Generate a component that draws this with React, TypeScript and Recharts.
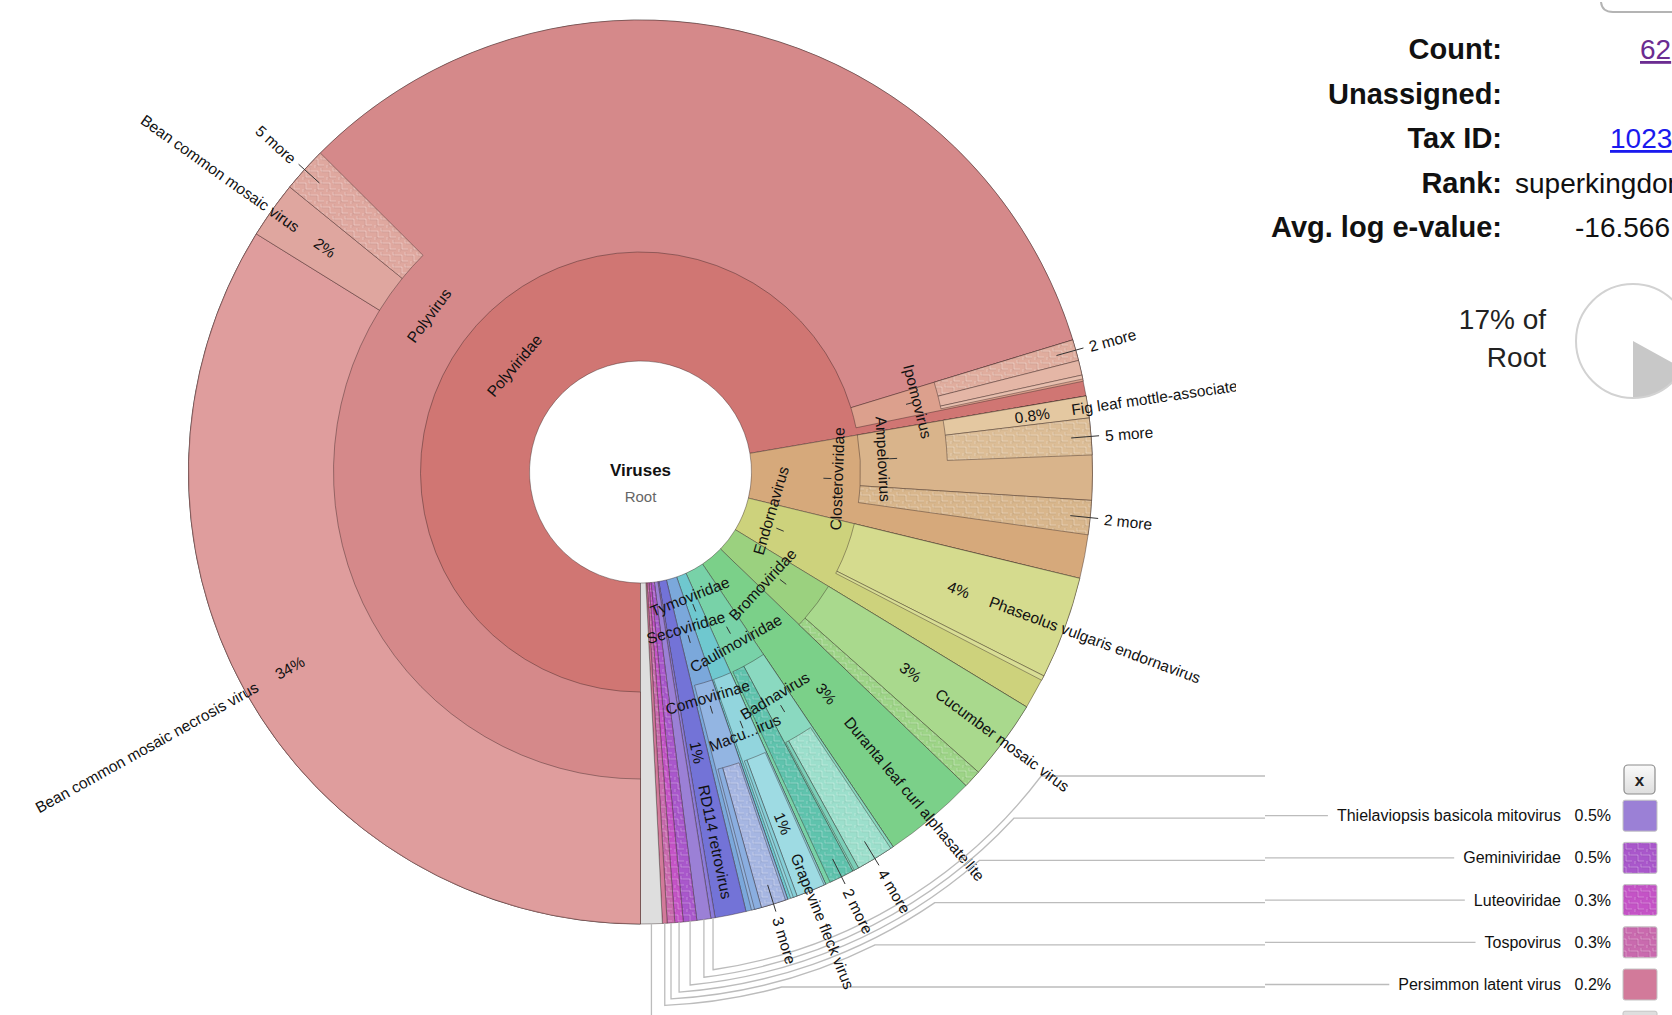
import React from "react";
import { PieChart, Pie, Cell } from "recharts";

const W = 1672;
const H = 1015;
const CX = 640.5;
const CY = 472;
const HOLE = 111;
const RING1 = 220;
const RING2 = 307;
const EDGE = 452;

// share of all reads (%), clockwise from six o'clock; "" = nothing drawn at that depth
const depth1Names = [
  "Polyviridae", "Closteroviridae", "Endornavirus", "Bromoviridae",
  "Duranta leaf curl alphasatellite", "Caulimoviridae", "Tymoviridae", "Secoviridae",
  "RD114 retrovirus", "key-hidden", "Thielaviopsis basicola mitovirus", "Geminiviridae",
  "Luteoviridae", "Tospovirus", "Persimmon latent virus", "key-unseen",
];
const depth1Values = [72.31, 6.47, 4.92, 3.5, 3.36, 2.72, 1.44, 1.53, 1.11, 0.15, 0.5, 0.48, 0.3, 0.27, 0.17, 0.77];

const depth2Names = [
  "Polyvirus", "Ipomovirus", "",
  "Ampelovirus", "2 more (Closteroviridae)", "",
  "Phaseolus vulgaris endornavirus", "other (Endornavirus)", "",
  "Cucumber mosaic virus", "more (Bromoviridae)",
  "",
  "Badnavirus", "2 more (Caulimoviridae)", "",
  "Maculavirus", "",
  "Comovirinae", "",
  "",
];
const depth2Values = [70.28, 1.5, 0.53, 3.69, 1.22, 1.56, 3.67, 0.17, 1.08, 2.86, 0.64, 3.36, 1.66, 0.89, 0.17, 1.33, 0.11, 1.33, 0.2, 3.75];

const depth3Names = [
  "Bean common mosaic necrosis virus", "Bean common mosaic virus", "5 more (Polyvirus)", "",
  "2 more (Ipomovirus)", "other (Ipomovirus a)", "other (Ipomovirus b)", "",
  "",
  "Fig leaf mottle-associated virus", "5 more (Ampelovirus)", "",
  "",
  "", "4 more (Badnavirus)", "other (Badnavirus)", "",
  "",
  "", "Grapevine fleck virus", "other (Maculavirus)", "",
  "",
  "", "3 more (Comovirinae)", "other (Comovirinae)", "",
  "",
];
const depth3Values = [33.83, 2.03, 1.61, 32.81, 0.75, 0.53, 0.14, 0.08, 0.53, 0.78, 1.31, 1.6, 14.56, 0.1, 1.33, 0.17, 0.06, 1.06, 0.06, 1.03, 0.14, 0.1, 0.11, 0.08, 0.89, 0.25, 0.11, 3.95];

// small slices listed in the key at the lower right
const keyNames = ["key-hidden", "Thielaviopsis basicola mitovirus", "Geminiviridae", "Luteoviridae", "Tospovirus", "Persimmon latent virus", "key-unseen"];

const colors: Record<string, string> = {
  Polyviridae: "#d07673",
  Closteroviridae: "#d6a97b",
  Endornavirus: "#cdd27c",
  Bromoviridae: "#9bd17f",
  "Duranta leaf curl alphasatellite": "#7bd089",
  Caulimoviridae: "#78d2a8",
  Tymoviridae: "#6fc8cf",
  Secoviridae: "#7ba8db",
  "RD114 retrovirus": "#7373d7",
  "key-hidden": "#8d7cda",
  "Thielaviopsis basicola mitovirus": "#9b80d6",
  Geminiviridae: "#a957cb",
  Luteoviridae: "#c453c6",
  Tospovirus: "#c96aae",
  "Persimmon latent virus": "#d27a9a",
  "key-unseen": "#dedede",
  Polyvirus: "#d5898a",
  Ipomovirus: "#dca08d",
  Ampelovirus: "#d9b48b",
  "2 more (Closteroviridae)": "#d8b68c",
  "Phaseolus vulgaris endornavirus": "#d5db8e",
  "other (Endornavirus)": "#d9de95",
  "Cucumber mosaic virus": "#a9d98d",
  "more (Bromoviridae)": "#9dd487",
  Badnavirus: "#8ad9c0",
  "2 more (Caulimoviridae)": "#5fc3ad",
  Maculavirus: "#92d5dd",
  Comovirinae: "#93b5e2",
  "Bean common mosaic necrosis virus": "#df9d9d",
  "Bean common mosaic virus": "#dfa69f",
  "5 more (Polyvirus)": "#dfa89f",
  "2 more (Ipomovirus)": "#e0ad9e",
  "other (Ipomovirus a)": "#e4b6a6",
  "other (Ipomovirus b)": "#e8bfae",
  "Fig leaf mottle-associated virus": "#e4c8a1",
  "5 more (Ampelovirus)": "#dcbd96",
  "4 more (Badnavirus)": "#9cdfcc",
  "other (Badnavirus)": "#7ccfb8",
  "Grapevine fleck virus": "#9edbe3",
  "other (Maculavirus)": "#86cfd8",
  "3 more (Comovirinae)": "#a6b6e2",
  "other (Comovirinae)": "#8aaee0",
};

const hatched = [
  "5 more (Polyvirus)", "2 more (Ipomovirus)", "5 more (Ampelovirus)", "2 more (Closteroviridae)",
  "more (Bromoviridae)", "4 more (Badnavirus)", "2 more (Caulimoviridae)", "3 more (Comovirinae)",
  "Geminiviridae", "Luteoviridae", "Tospovirus",
];

// label placement: tangential names (r = text centre, tick = radial offset of the tick, shift in degrees)
const tangentLabels: Record<string, { r: number; tick?: number; shift?: number; text?: string }> = {
  Polyviridae: { r: 165 },
  Closteroviridae: { r: 197, tick: -10 },
  Endornavirus: { r: 136, tick: 15, shift: -6 },
  Bromoviridae: { r: 166, tick: 14, shift: 5 },
  Caulimoviridae: { r: 196, tick: -15 },
  Tymoviridae: { r: 134, tick: 12 },
  Secoviridae: { r: 162, tick: 12 },
  Polyvirus: { r: 263 },
  Ipomovirus: { r: 286, tick: -8 },
  Ampelovirus: { r: 243, tick: 10 },
  Badnavirus: { r: 261, tick: 15 },
  Maculavirus: { r: 281, tick: -9, text: "Macu...irus" },
  Comovirinae: { r: 235, tick: 13 },
};
// radial names with percentage (r = inner end of the text)
const radialLabels: Record<string, number> = {
  "Bean common mosaic necrosis virus": 386,
  "Bean common mosaic virus": 376,
  "Phaseolus vulgaris endornavirus": 328,
  "Cucumber mosaic virus": 325,
  "Duranta leaf curl alphasatellite": 278,
  "Grapevine fleck virus": 368,
  "RD114 retrovirus": 275,
  "Fig leaf mottle-associated virus": 378,
};

const FONT = "'Liberation Sans', Arial, sans-serif";
const STROKE = "rgba(45,30,30,0.5)";
const RAD = Math.PI / 180;
const KEY_Y0 = 776;
const KEY_DY = 42.2;
const KEY_R0 = 503;
const KEY_DR = 6.2;
const KEY_LINE_END = 1265;

const total = depth1Values.reduce((a, b) => a + b, 0);
const pctText = (name: string) => {
  const all = [...depth1Names, ...depth2Names, ...depth3Names];
  const vals = [...depth1Values, ...depth2Values, ...depth3Values];
  const v = (vals[all.indexOf(name)] / total) * 100;
  return v < 1 ? `${v.toFixed(1)}%` : `${Math.round(v)}%`;
};

const pt = (phi: number, r: number) => [CX + r * Math.cos(phi * RAD), CY + r * Math.sin(phi * RAD)];
const fillFor = (name: string) => {
  if (!name) return "none";
  const h = hatched.indexOf(name);
  return h >= 0 ? `url(#hatch-${h})` : colors[name];
};

let measureCtx: CanvasRenderingContext2D | null = null;
function textWidth(s: string, font: string) {
  if (!measureCtx) measureCtx = document.createElement("canvas").getContext("2d");
  if (!measureCtx) return s.length * 8;
  measureCtx.font = font;
  return measureCtx.measureText(s).width;
}

const textStyle = { fontFamily: FONT, fontSize: 15.5, fill: "#111" };

function renderLabel(p: any) {
  const name: string = p.name ?? p.payload?.name ?? "";
  if (!name) return null;
  const phi = -p.midAngle;
  const out: React.ReactNode[] = [];

  const t = tangentLabels[name];
  if (t) {
    const tp = phi + (t.shift || 0);
    const [x, y] = pt(tp, t.r);
    const rot = Math.sin(tp * RAD) > 0 ? tp - 90 : tp + 90;
    if (t.tick) {
      const [a1, b1] = pt(phi, t.r + t.tick - 4);
      const [a2, b2] = pt(phi, t.r + t.tick + 4);
      out.push(<line key="tk" x1={a1} y1={b1} x2={a2} y2={b2} stroke="#333" strokeWidth={1} />);
    }
    out.push(
      <text key="t" x={x} y={y} transform={`rotate(${rot} ${x} ${y})`} textAnchor="middle" dominantBaseline="central" style={textStyle}>
        {t.text || name}
      </text>
    );
  }

  const rr = radialLabels[name];
  const more = /^\d+ more/.test(name);
  if (rr || more) {
    const r = more ? 466 : rr;
    const [x, y] = pt(phi, r);
    const right = Math.cos(phi * RAD) >= 0;
    const rot = right ? phi : phi + 180;
    const label = more ? name.replace(/ \(.*\)$/, "") : name;
    const pc = more ? null : pctText(name);
    if (more) {
      const [a1, b1] = pt(phi, 432);
      const [a2, b2] = pt(phi, 460);
      out.push(<line key="mt" x1={a1} y1={b1} x2={a2} y2={b2} stroke="#333" strokeWidth={1} />);
    }
    out.push(
      <text key="r" x={x} y={y} transform={`rotate(${rot} ${x} ${y})`} textAnchor={right ? "start" : "end"} dominantBaseline="central" style={textStyle}>
        {right ? (
          <>
            {pc && <tspan>{pc}</tspan>}
            <tspan dx={pc ? 22 : 0}>{label}</tspan>
          </>
        ) : (
          <>
            <tspan>{label}</tspan>
            {pc && <tspan dx={22}>{pc}</tspan>}
          </>
        )}
      </text>
    );
  }

  const k = keyNames.indexOf(name);
  if (k >= 0) {
    const rowY = KEY_Y0 + k * KEY_DY;
    const R = KEY_R0 + k * KEY_DR;
    const [x0, y0] = pt(phi, EDGE);
    const dx = x0 - CX;
    const yDrop = CY + Math.sqrt(R * R - dx * dx);
    let d: string;
    if (rowY >= yDrop) {
      d = `M${x0},${y0} V${rowY} H${KEY_LINE_END}`;
    } else {
      const x2 = CX + Math.sqrt(R * R - (rowY - CY) * (rowY - CY));
      d = `M${x0},${y0} V${yDrop} A${R},${R} 0 0 0 ${x2},${rowY} H${KEY_LINE_END}`;
    }
    out.push(<path key="kl" d={d} fill="none" stroke="#bcbcbc" strokeWidth={1.3} />);
  }
  return out.length ? <g>{out}</g> : null;
}

const toData = (names: string[], values: number[]) => names.map((name, i) => ({ name, value: values[i] }));
const depth1 = toData(depth1Names, depth1Values);
const depth2 = toData(depth2Names, depth2Values);
const depth3 = toData(depth3Names, depth3Values);

export default function App() {
  const rings: [typeof depth1, number][] = [
    [depth1, HOLE],
    [depth2, RING1],
    [depth3, RING2],
  ];
  const keyFont = `16px ${FONT}`;

  return (
    <div style={{ position: "fixed", left: 0, top: 0, width: W, height: H, overflow: "hidden", background: "#fff", fontFamily: FONT }}>
      <div style={{ position: "absolute", left: 0, top: 0 }}>
        <PieChart width={W} height={H} margin={{ top: 0, right: 0, bottom: 0, left: 0 }}>
          {rings.map(([data, inner], ri) => (
            <Pie
              key={ri}
              data={data}
              dataKey="value"
              nameKey="name"
              cx={CX}
              cy={CY}
              innerRadius={inner}
              outerRadius={EDGE}
              startAngle={-90}
              endAngle={-450}
              isAnimationActive={false}
              label={renderLabel}
              labelLine={false}
            >
              {data.map((d, i) => (
                <Cell key={i} fill={fillFor(d.name)} stroke={d.name ? STROKE : "none"} strokeWidth={0.8} />
              ))}
            </Pie>
          ))}
        </PieChart>
      </div>

      <svg width={W} height={H} style={{ position: "absolute", left: 0, top: 0 }}>
        <defs>
          {hatched.map((n, i) => (
            <pattern key={n} id={`hatch-${i}`} width={12} height={12} patternUnits="userSpaceOnUse">
              <rect width={12} height={12} fill={colors[n]} />
              <path d="M0 3H6V9H12M3 12V9M9 0V3H12" fill="none" stroke="rgba(255,255,255,0.28)" strokeWidth={1} />
              <path d="M0 4H5V10H12M4 12V10M10 0V4H12" fill="none" stroke="rgba(0,0,0,0.07)" strokeWidth={0.8} />
            </pattern>
          ))}
          <linearGradient id="btn" x1="0" y1="0" x2="0" y2="1">
            <stop offset="0" stopColor="#fafafa" />
            <stop offset="1" stopColor="#dedede" />
          </linearGradient>
        </defs>

        {/* centre */}
        <text x={CX} y={470} textAnchor="middle" dominantBaseline="central" style={{ fontFamily: FONT, fontSize: 17, fontWeight: 700, fill: "#111" }}>
          Viruses
        </text>
        <text x={CX} y={496} textAnchor="middle" dominantBaseline="central" style={{ fontFamily: FONT, fontSize: 15, fill: "#666" }}>
          Root
        </text>

        {/* details panel */}
        <rect x={1236} y={0} width={436} height={745} fill="#fff" />
        <path d="M1601 2 Q1602 12 1613 12 H1672" fill="none" stroke="#b4b4b4" strokeWidth={2} />
        {["Count:", "Unassigned:", "Tax ID:", "Rank:", "Avg. log e-value:"].map((s, i) => (
          <text key={s} x={1502} y={59 + i * 44.5} textAnchor="end" style={{ fontFamily: FONT, fontSize: 29, fontWeight: 700, fill: "#111" }}>
            {s}
          </text>
        ))}
        <text x={1640} y={59} textDecoration="underline" style={{ fontFamily: FONT, fontSize: 28, fill: "#6b2c91" }}>62</text>
        <text x={1610} y={148} textDecoration="underline" style={{ fontFamily: FONT, fontSize: 28, fill: "#1a1aee" }}>10239</text>
        <text x={1515} y={193} style={{ fontFamily: FONT, fontSize: 28, fill: "#111" }}>superkingdom</text>
        <text x={1575} y={237} style={{ fontFamily: FONT, fontSize: 28, fill: "#111" }}>-16.566</text>
        <text x={1546} y={329} textAnchor="end" style={{ fontFamily: FONT, fontSize: 28, fill: "#222" }}>17% of</text>
        <text x={1546} y={367} textAnchor="end" style={{ fontFamily: FONT, fontSize: 28, fill: "#222" }}>Root</text>

        {/* key for the small slices */}
        <rect x={1624} y={765} width={31} height={29} rx={4} fill="url(#btn)" stroke="#8c8c8c" strokeWidth={1.2} />
        <text x={1639.5} y={780} textAnchor="middle" dominantBaseline="central" style={{ fontFamily: FONT, fontSize: 17, fontWeight: 700, fill: "#222" }}>
          x
        </text>
        {keyNames.map((n, k) => {
          if (k === 0) return null;
          const cy = KEY_Y0 + k * KEY_DY - 2.5;
          const shown = !n.startsWith("key-");
          const tw = shown ? textWidth(n, keyFont) : 0;
          return (
            <g key={n}>
              {shown && (
                <>
                  <path d={`M${KEY_LINE_END},${cy} H${1561 - tw - 9}`} stroke="#bcbcbc" strokeWidth={1.3} fill="none" />
                  <text x={1561} y={cy} textAnchor="end" dominantBaseline="central" style={{ fontFamily: FONT, fontSize: 16, fill: "#111" }}>
                    {n}
                  </text>
                  <text x={1611} y={cy} textAnchor="end" dominantBaseline="central" style={{ fontFamily: FONT, fontSize: 16, fill: "#111" }}>
                    {pctText(n)}
                  </text>
                </>
              )}
              <rect x={1623} y={cy - 15.5} width={34} height={31} rx={2} fill={fillFor(n)} stroke="#c4c4c4" strokeWidth={1} />
            </g>
          );
        })}
      </svg>

      {/* share of root */}
      <div style={{ position: "absolute", left: 1572.5, top: 280.5 }}>
        <PieChart width={120} height={120} margin={{ top: 0, right: 0, bottom: 0, left: 0 }}>
          <Pie
            data={[{ name: "Root", value: 83 }, { name: "Viruses", value: 17 }]}
            dataKey="value"
            cx={60}
            cy={60}
            innerRadius={0}
            outerRadius={57}
            startAngle={-90}
            endAngle={-450}
            isAnimationActive={false}
            stroke="none"
          >
            <Cell fill="#fff" />
            <Cell fill="#c8c8c8" />
          </Pie>
        </PieChart>
      </div>
      <div style={{ position: "absolute", left: 1574.5, top: 282.5, width: 112, height: 112, borderRadius: "50%", border: "2px solid #d2d2d2" }} />
    </div>
  );
}
